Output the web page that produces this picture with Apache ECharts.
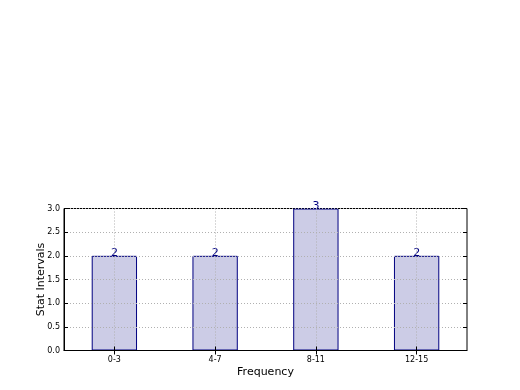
<!DOCTYPE html>
<html><head><meta charset="utf-8">
<script src="https://cdn.jsdelivr.net/npm/echarts@6/dist/echarts.min.js"></script>
<style>html,body{margin:0;padding:0;background:#fff}#c{width:520px;height:390px}</style>
</head><body><div id="c"></div>
<script>
const categories = ['0-3', '4-7', '8-11', '12-15'];
const values = [2, 2, 3, 2];
const yTicks = [0, 0.5, 1.0, 1.5, 2.0, 2.5, 3.0];

const chart = echarts.init(document.getElementById('c'), null, {renderer: 'canvas'});
const gridStyle = {color: '#b0b0b0', type: [1, 2], width: 1};
const font = 'DejaVu Sans';
chart.setOption({
  animation: false,
  backgroundColor: '#fff',
  grid: {left: 64, top: 208.5, width: 403, height: 142, show: true, borderColor: '#000', borderWidth: 1, backgroundColor: 'transparent'},
  xAxis: [{
    type: 'category', data: categories, position: 'bottom', z: 10,
    name: 'Frequency', nameLocation: 'middle', nameGap: 16,
    nameTextStyle: {fontFamily: font, fontSize: 11, color: '#000'},
    axisLine: {show: true, lineStyle: {color: '#000'}},
    axisTick: {show: true, inside: true, alignWithLabel: true, length: 4, lineStyle: {color: '#000'}},
    axisLabel: {fontFamily: font, fontSize: 8, color: '#000', margin: 5},
    splitLine: {show: false}
  }, {
    type: 'category', data: categories, position: 'top', z: 10,
    axisLine: {show: false},
    axisTick: {show: true, inside: true, alignWithLabel: true, length: 4, lineStyle: {color: '#000'}},
    axisLabel: {show: false}, splitLine: {show: false}
  }],
  yAxis: [{
    type: 'value', min: 0, max: 3, interval: 0.5, z: 10,
    name: 'Stat Intervals', nameLocation: 'middle', nameGap: 17, nameRotate: 90, nameMoveOverlap: false,
    nameTextStyle: {fontFamily: font, fontSize: 11, color: '#000'},
    axisLine: {show: true, lineStyle: {color: '#000'}},
    axisTick: {show: true, inside: true, length: 4, lineStyle: {color: '#000'}},
    axisLabel: {fontFamily: font, fontSize: 8, color: '#000', margin: 4,
      formatter: v => yTicks.includes(v) ? v.toFixed(1) : ''},
    splitLine: {show: true, lineStyle: gridStyle}
  }, {
    type: 'value', min: 0, max: 3, interval: 0.5, position: 'right', z: 10,
    axisLine: {show: false},
    axisTick: {show: true, inside: true, length: 4, lineStyle: {color: '#000'}},
    axisLabel: {show: false}, splitLine: {show: false}
  }],
  series: [{
    type: 'bar', data: values, xAxisIndex: 0, yAxisIndex: 0, barWidth: '45%', z: 2,
    itemStyle: {color: 'rgb(204,204,230)', borderColor: '#000080', borderWidth: 1},
    label: {show: true, position: 'top', distance: -3, color: '#000080', fontFamily: font, fontSize: 11},
    markLine: {
      silent: true, symbol: 'none', z: 8, animation: false,
      label: {show: false},
      lineStyle: gridStyle,
      data: categories.map(c => ({xAxis: c}))
    }
  }]
});
</script></body></html>
